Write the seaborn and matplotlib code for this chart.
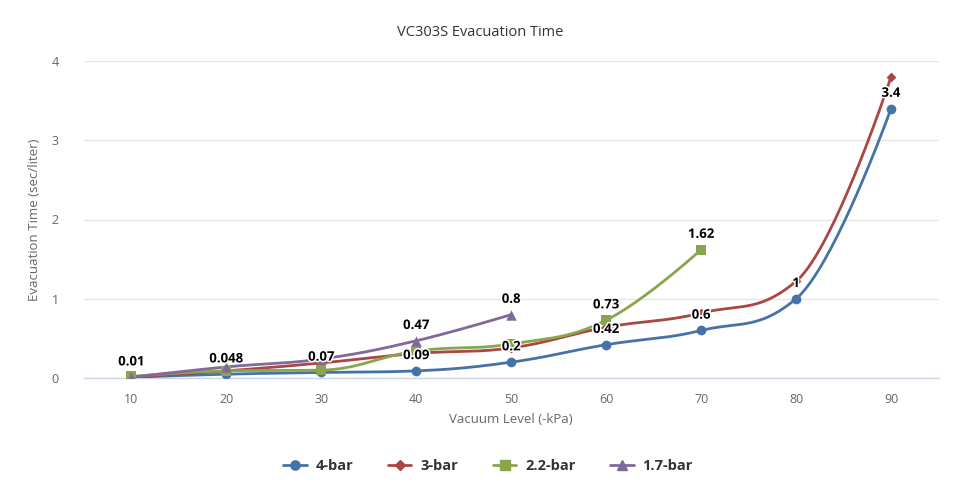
import numpy as np
import pandas as pd
import matplotlib
matplotlib.use("Agg")
import matplotlib.pyplot as plt
import matplotlib.patheffects as pe
from matplotlib.lines import Line2D
import seaborn as sns

# ---------------- data ----------------
vacuum = [10, 20, 30, 40, 50, 60, 70, 80, 90]
bar4 = [0.01, 0.048, 0.07, 0.09, 0.2, 0.42, 0.6, 1.0, 3.4]
bar3 = [0.01, 0.09, 0.19, 0.31, 0.38, 0.64, 0.82, 1.22, 3.8]
bar22 = [0.02, 0.09, 0.10, 0.34, 0.43, 0.73, 1.62]
bar17 = [0.01, 0.14, 0.24, 0.47, 0.8]
series_names = ["4-bar", "3-bar", "2.2-bar", "1.7-bar"]
# which x-values of each series show a data label (others hidden by overlap)
labelled = {
    "4-bar": [10, 20, 30, 40, 50, 60, 70, 80, 90],
    "3-bar": [],
    "2.2-bar": [60, 70],
    "1.7-bar": [40, 50],
}
label_text = {
    "4-bar": ["0.01", "0.048", "0.07", "0.09", "0.2", "0.42", "0.6", "1", "3.4"],
    "2.2-bar": [None, None, None, None, None, "0.73", "1.62"],
    "1.7-bar": [None, None, None, "0.47", "0.8"],
}

colors = ["#4572A7", "#AA4643", "#89A54E", "#80699B"]
markers = ["o", "D", "s", "^"]
msizes = [7, 5, 7, 7.5]

values = {"4-bar": bar4, "3-bar": bar3, "2.2-bar": bar22, "1.7-bar": bar17}


def spline(xs, ys, n=40):
    """Highcharts-like spline through the points."""
    s, d = 1.5, 2.5
    m = len(xs)
    L = [(xs[i], ys[i]) for i in range(m)]
    R = [(xs[i], ys[i]) for i in range(m)]
    for i in range(1, m - 1):
        x, y = xs[i], ys[i]
        px, py = xs[i - 1], ys[i - 1]
        nx, ny = xs[i + 1], ys[i + 1]
        lx, ly = (s * x + px) / d, (s * y + py) / d
        rx, ry = (s * x + nx) / d, (s * y + ny) / d
        if rx != lx:
            c = ((ry - ly) * (rx - x)) / (rx - lx) + y - ry
            ly += c
            ry += c
        if ly > py and ly > y:
            ly = max(py, y); ry = 2 * y - ly
        elif ly < py and ly < y:
            ly = min(py, y); ry = 2 * y - ly
        if ry > ny and ry > y:
            ry = max(ny, y); ly = 2 * y - ry
        elif ry < ny and ry < y:
            ry = min(ny, y); ly = 2 * y - ry
        L[i] = (lx, ly)
        R[i] = (rx, ry)
    outx, outy = [xs[0]], [ys[0]]
    t = np.linspace(0, 1, n)[1:]
    for i in range(1, m):
        p0 = np.array([xs[i - 1], ys[i - 1]])
        p1 = np.array(R[i - 1])
        p2 = np.array(L[i])
        p3 = np.array([xs[i], ys[i]])
        b = ((1 - t) ** 3)[:, None] * p0 + (3 * (1 - t) ** 2 * t)[:, None] * p1 \
            + (3 * (1 - t) * t ** 2)[:, None] * p2 + (t ** 3)[:, None] * p3
        outx.extend(b[:, 0]); outy.extend(b[:, 1])
    return outx, outy


sns.set_theme(style="white")
plt.rcParams["font.family"] = ["Open Sans", "DejaVu Sans"]

fig = plt.figure(figsize=(9.77, 4.93), dpi=100)
ax = fig.add_axes([84 / 977, 1 - 378 / 493, (938.5 - 84) / 977, (378 - 61) / 493])

for name, col, mk, ms in zip(series_names, colors, markers, msizes):
    ys = values[name]
    xs = vacuum[:len(ys)]
    cx, cy = spline(xs, ys)
    curve = pd.DataFrame({"x": cx, "y": cy})
    sns.lineplot(data=curve, x="x", y="y", sort=False, estimator=None,
                 color=col, linewidth=2, ax=ax, zorder=3)
    pts = pd.DataFrame({"x": xs, "y": ys})
    sns.scatterplot(data=pts, x="x", y="y", marker=mk, s=ms ** 2, color=col,
                    edgecolor=col, linewidth=0, ax=ax, zorder=4)

# data labels
for name in series_names:
    ys = values[name]
    for i, (x, y) in enumerate(zip(vacuum, ys)):
        if x in labelled[name]:
            txt = label_text[name][i]
            ax.annotate(txt, (x, y), xytext=(0, 11), textcoords="offset points",
                        ha="center", va="center", fontsize=9.5, fontweight="bold",
                        color="black", zorder=6,
                        path_effects=[pe.withStroke(linewidth=2.2, foreground="white")])

ax.set_xlim(5, 95)
ax.set_ylim(0, 4)
ax.set_yticks([0, 1, 2, 3, 4])
ax.set_yticklabels(["0", "1", "2", "3", "4"])
ax.set_xticks(vacuum)
ax.set_xticklabels([str(v) for v in vacuum])
ax.set_xticks(np.arange(5, 96, 10), minor=True)
ax.grid(axis="y", color="#e6e6e6", linewidth=1, zorder=0)
ax.grid(axis="x", visible=False)
for sp in ["top", "right", "left"]:
    ax.spines[sp].set_visible(False)
ax.spines["bottom"].set_color("#ccd6eb")
ax.spines["bottom"].set_linewidth(1)
ax.tick_params(axis="x", which="major", length=0, labelsize=9, colors="#666666", pad=11)
ax.tick_params(axis="x", which="minor", length=10, width=1, color="#ccd6eb", direction="out")
ax.tick_params(axis="y", length=0, labelsize=9, colors="#666666", pad=18)
for lbl in ax.get_yticklabels():
    lbl.set_ha("right")

ax.set_xlabel("Vacuum Level (-kPa)", fontsize=9.5, color="#666666", labelpad=5)
ax.set_ylabel("Evacuation Time (sec/liter)", fontsize=9.5, color="#666666", labelpad=8)

fig.text(480 / 977, 1 - 32 / 493, "VC303S Evacuation Time", ha="center", va="center",
         fontsize=10.5, color="#333333")

handles = [Line2D([0], [0], color=c, lw=2, marker=m, markersize=ms * 0.95)
           for c, m, ms in zip(colors, markers, msizes)]
leg = fig.legend(handles, series_names, loc="center", bbox_to_anchor=(488 / 977, 1 - 466 / 493),
                 ncol=4, frameon=False, handlelength=1.6, columnspacing=2.4,
                 handletextpad=0.6, prop={"size": 10.5, "weight": "bold"})
for t in leg.get_texts():
    t.set_color("#333333")

fig.savefig("out.png", dpi=100, facecolor="white")
